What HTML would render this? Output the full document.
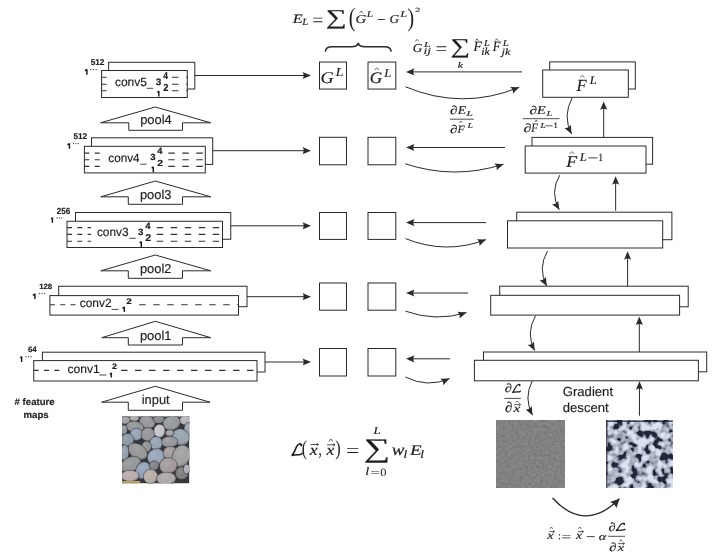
<!DOCTYPE html>
<html><head><meta charset="utf-8"><style>
html,body{margin:0;padding:0;background:#fff;}
body{width:720px;height:559px;overflow:hidden;}
svg{display:block;will-change:transform;}
</style></head><body>
<svg width="720" height="559" viewBox="0 0 720 559" text-rendering="geometricPrecision">
<defs><clipPath id="cp1"><rect x="122.1" y="416.35" width="67.3" height="67.1"/></clipPath><radialGradient id="pg" cx="0.4" cy="0.35" r="0.7"><stop offset="0" stop-color="#fff" stop-opacity="0.12"/><stop offset="0.55" stop-color="#fff" stop-opacity="0"/><stop offset="1" stop-color="#000" stop-opacity="0.42"/></radialGradient><filter id="nzf" filterUnits="userSpaceOnUse" x="496.9" y="420.7" width="67.2" height="67.0" color-interpolation-filters="sRGB">
<feTurbulence type="fractalNoise" baseFrequency="0.35" numOctaves="2" seed="2" result="n"/>
<feColorMatrix in="n" type="matrix" values="0.13 0 0 0 0.441  0.13 0 0 0 0.441  0.13 0 0 0 0.441  0 0 0 0 1"/>
</filter><filter id="txf" filterUnits="userSpaceOnUse" x="606" y="420.6" width="66.9" height="66.9" color-interpolation-filters="sRGB">
<feTurbulence type="fractalNoise" baseFrequency="0.13" numOctaves="2" seed="8" result="n"/>
<feColorMatrix in="n" type="matrix" values="1 0 0 0 0  1 0 0 0 0  1 0 0 0 0  0 0 0 0 1" result="g"/>
<feComponentTransfer in="g">
<feFuncR type="table" tableValues="0.130 0.130 0.130 0.130 0.130 0.130 0.130 0.130 0.130 0.130 0.130 0.130 0.130 0.130 0.130 0.130 0.130 0.130 0.130 0.130 0.130 0.130 0.130 0.130 0.130 0.130 0.130 0.130 0.130 0.130 0.130 0.130 0.130 0.130 0.130 0.130 0.130 0.130 0.130 0.400 0.400 0.400 0.400 0.560 0.575 0.590 0.605 0.620 0.635 0.650 0.665 0.680 0.695 0.710 0.725 0.740 0.755 0.770 0.785 0.800 0.815 0.830 0.845 0.860 0.860 0.860 0.860 0.860 0.860 0.860 0.860 0.860 0.860 0.860 0.860 0.860 0.860 0.860 0.860 0.860 0.860 0.860 0.860 0.860 0.860 0.860 0.860 0.860 0.860 0.860 0.860 0.860 0.860 0.860 0.860 0.860 0.860 0.860 0.860 0.860 0.860"/>
<feFuncG type="table" tableValues="0.150 0.150 0.150 0.150 0.150 0.150 0.150 0.150 0.150 0.150 0.150 0.150 0.150 0.150 0.150 0.150 0.150 0.150 0.150 0.150 0.150 0.150 0.150 0.150 0.150 0.150 0.150 0.150 0.150 0.150 0.150 0.150 0.150 0.150 0.150 0.150 0.150 0.150 0.150 0.430 0.430 0.430 0.430 0.590 0.605 0.620 0.635 0.650 0.665 0.680 0.695 0.710 0.725 0.740 0.755 0.770 0.785 0.800 0.815 0.830 0.845 0.860 0.875 0.890 0.890 0.890 0.890 0.890 0.890 0.890 0.890 0.890 0.890 0.890 0.890 0.890 0.890 0.890 0.890 0.890 0.890 0.890 0.890 0.890 0.890 0.890 0.890 0.890 0.890 0.890 0.890 0.890 0.890 0.890 0.890 0.890 0.890 0.890 0.890 0.890 0.890"/>
<feFuncB type="table" tableValues="0.230 0.230 0.230 0.230 0.230 0.230 0.230 0.230 0.230 0.230 0.230 0.230 0.230 0.230 0.230 0.230 0.230 0.230 0.230 0.230 0.230 0.230 0.230 0.230 0.230 0.230 0.230 0.230 0.230 0.230 0.230 0.230 0.230 0.230 0.230 0.230 0.230 0.230 0.230 0.520 0.520 0.520 0.520 0.650 0.665 0.680 0.695 0.710 0.725 0.740 0.755 0.770 0.785 0.800 0.815 0.830 0.845 0.860 0.875 0.890 0.905 0.920 0.935 0.950 0.950 0.950 0.950 0.950 0.950 0.950 0.950 0.950 0.950 0.950 0.950 0.950 0.950 0.950 0.950 0.950 0.950 0.950 0.950 0.950 0.950 0.950 0.950 0.950 0.950 0.950 0.950 0.950 0.950 0.950 0.950 0.950 0.950 0.950 0.950 0.950 0.950"/>
<feFuncA type="linear" slope="0" intercept="1"/>
</feComponentTransfer>
<feGaussianBlur stdDeviation="0.45"/>
</filter></defs>
<rect width="720" height="559" fill="#fff"/>
<rect x="108.60" y="62.30" width="86.20" height="26.70" fill="#fff" stroke="#2a2a2a" stroke-width="1.0"/>
<rect x="101.60" y="70.50" width="85.70" height="27.00" fill="#fff" stroke="#2a2a2a" stroke-width="1.0"/>
<line x1="194.80" y1="75.50" x2="305.90" y2="75.50" stroke="#2a2a2a" stroke-width="1.0"/>
<path d="M311.00,75.50 L302.50,79.10 Q304.88,75.50 302.50,71.90 Z" fill="#2a2a2a"/>
<line x1="101.60" y1="77.20" x2="112.00" y2="77.20" stroke="#333" stroke-width="1.1" stroke-dasharray="5 5.3"/>
<line x1="172.00" y1="77.20" x2="187.30" y2="77.20" stroke="#333" stroke-width="1.1" stroke-dasharray="6.5 7.5"/>
<line x1="101.60" y1="84.20" x2="112.00" y2="84.20" stroke="#333" stroke-width="1.1" stroke-dasharray="5 5.3"/>
<line x1="172.00" y1="84.20" x2="187.30" y2="84.20" stroke="#333" stroke-width="1.1" stroke-dasharray="6.5 7.5"/>
<line x1="101.60" y1="90.80" x2="112.00" y2="90.80" stroke="#333" stroke-width="1.1" stroke-dasharray="5 5.3"/>
<line x1="172.00" y1="90.80" x2="187.30" y2="90.80" stroke="#333" stroke-width="1.1" stroke-dasharray="6.5 7.5"/>
<rect x="91.50" y="137.80" width="121.20" height="26.60" fill="#fff" stroke="#2a2a2a" stroke-width="1.0"/>
<rect x="84.40" y="146.30" width="120.90" height="26.60" fill="#fff" stroke="#2a2a2a" stroke-width="1.0"/>
<line x1="212.70" y1="150.70" x2="305.90" y2="150.70" stroke="#2a2a2a" stroke-width="1.0"/>
<path d="M311.00,150.70 L302.50,154.30 Q304.88,150.70 302.50,147.10 Z" fill="#2a2a2a"/>
<line x1="84.40" y1="153.10" x2="103.50" y2="153.10" stroke="#333" stroke-width="1.1" stroke-dasharray="5 5.3"/>
<line x1="168.30" y1="153.10" x2="205.30" y2="153.10" stroke="#333" stroke-width="1.1" stroke-dasharray="6.5 7.5"/>
<line x1="84.40" y1="159.70" x2="103.50" y2="159.70" stroke="#333" stroke-width="1.1" stroke-dasharray="5 5.3"/>
<line x1="168.30" y1="159.70" x2="205.30" y2="159.70" stroke="#333" stroke-width="1.1" stroke-dasharray="6.5 7.5"/>
<line x1="84.40" y1="166.40" x2="103.50" y2="166.40" stroke="#333" stroke-width="1.1" stroke-dasharray="5 5.3"/>
<line x1="168.30" y1="166.40" x2="205.30" y2="166.40" stroke="#333" stroke-width="1.1" stroke-dasharray="6.5 7.5"/>
<rect x="75.50" y="212.50" width="155.25" height="26.75" fill="#fff" stroke="#2a2a2a" stroke-width="1.0"/>
<rect x="67.00" y="221.25" width="155.50" height="26.25" fill="#fff" stroke="#2a2a2a" stroke-width="1.0"/>
<line x1="230.75" y1="225.80" x2="305.90" y2="225.80" stroke="#2a2a2a" stroke-width="1.0"/>
<path d="M311.00,225.80 L302.50,229.40 Q304.88,225.80 302.50,222.20 Z" fill="#2a2a2a"/>
<line x1="67.00" y1="227.60" x2="91.00" y2="227.60" stroke="#333" stroke-width="1.1" stroke-dasharray="5 5.3"/>
<line x1="156.70" y1="227.60" x2="222.50" y2="227.60" stroke="#333" stroke-width="1.1" stroke-dasharray="6.5 7.5"/>
<line x1="67.00" y1="234.40" x2="91.00" y2="234.40" stroke="#333" stroke-width="1.1" stroke-dasharray="5 5.3"/>
<line x1="156.70" y1="234.40" x2="222.50" y2="234.40" stroke="#333" stroke-width="1.1" stroke-dasharray="6.5 7.5"/>
<line x1="67.00" y1="241.30" x2="91.00" y2="241.30" stroke="#333" stroke-width="1.1" stroke-dasharray="5 5.3"/>
<line x1="156.70" y1="241.30" x2="222.50" y2="241.30" stroke="#333" stroke-width="1.1" stroke-dasharray="6.5 7.5"/>
<rect x="58.70" y="286.25" width="188.30" height="20.45" fill="#fff" stroke="#2a2a2a" stroke-width="1.0"/>
<rect x="49.90" y="295.60" width="188.60" height="19.50" fill="#fff" stroke="#2a2a2a" stroke-width="1.0"/>
<line x1="247.00" y1="296.70" x2="305.90" y2="296.70" stroke="#2a2a2a" stroke-width="1.0"/>
<path d="M311.00,296.70 L302.50,300.30 Q304.88,296.70 302.50,293.10 Z" fill="#2a2a2a"/>
<line x1="49.90" y1="304.80" x2="76.00" y2="304.80" stroke="#333" stroke-width="1.1" stroke-dasharray="5 5.3"/>
<line x1="139.20" y1="304.80" x2="238.50" y2="304.80" stroke="#333" stroke-width="1.1" stroke-dasharray="6.5 7.5"/>
<rect x="42.40" y="352.20" width="222.60" height="19.80" fill="#fff" stroke="#2a2a2a" stroke-width="1.0"/>
<rect x="33.75" y="360.60" width="223.25" height="20.40" fill="#fff" stroke="#2a2a2a" stroke-width="1.0"/>
<line x1="265.00" y1="362.00" x2="305.90" y2="362.00" stroke="#2a2a2a" stroke-width="1.0"/>
<path d="M311.00,362.00 L302.50,365.60 Q304.88,362.00 302.50,358.40 Z" fill="#2a2a2a"/>
<line x1="33.75" y1="370.40" x2="63.00" y2="370.40" stroke="#333" stroke-width="1.1" stroke-dasharray="5 5.3"/>
<line x1="121.00" y1="370.40" x2="257.00" y2="370.40" stroke="#333" stroke-width="1.1" stroke-dasharray="6.5 7.5"/>
<polygon points="155.30,107.00 210.80,122.80 182.50,122.80 182.50,130.30 128.80,130.30 128.80,122.80 100.50,122.80" fill="#fff" stroke="#2a2a2a" stroke-width="1"/>
<text x="155.95" y="124.20" font-family="Liberation Sans" font-size="12.9" text-anchor="middle" font-style="normal" font-weight="normal" fill="#222" stroke="#222" stroke-width="0.15" >pool4</text>
<polygon points="155.30,181.00 210.80,196.80 182.50,196.80 182.50,204.30 128.30,204.30 128.30,196.80 100.80,196.80" fill="#fff" stroke="#2a2a2a" stroke-width="1"/>
<text x="155.70" y="198.60" font-family="Liberation Sans" font-size="12.9" text-anchor="middle" font-style="normal" font-weight="normal" fill="#222" stroke="#222" stroke-width="0.15" >pool3</text>
<polygon points="155.30,255.00 210.80,270.80 182.50,270.80 182.50,278.30 128.30,278.30 128.30,270.80 100.80,270.80" fill="#fff" stroke="#2a2a2a" stroke-width="1"/>
<text x="155.70" y="272.50" font-family="Liberation Sans" font-size="12.9" text-anchor="middle" font-style="normal" font-weight="normal" fill="#222" stroke="#222" stroke-width="0.15" >pool2</text>
<polygon points="155.30,321.30 210.80,337.70 182.50,337.70 182.50,345.00 128.30,345.00 128.30,337.70 101.70,337.70" fill="#fff" stroke="#2a2a2a" stroke-width="1"/>
<text x="155.70" y="339.70" font-family="Liberation Sans" font-size="12.9" text-anchor="middle" font-style="normal" font-weight="normal" fill="#222" stroke="#222" stroke-width="0.15" >pool1</text>
<polygon points="155.30,386.30 210.00,402.20 182.50,402.20 182.50,410.30 128.30,410.30 128.30,402.20 101.70,402.20" fill="#fff" stroke="#2a2a2a" stroke-width="1"/>
<text x="155.70" y="404.20" font-family="Liberation Sans" font-size="12.9" text-anchor="middle" font-style="normal" font-weight="normal" fill="#222" stroke="#222" stroke-width="0.15" >input</text>
<rect x="319.50" y="62.05" width="27.00" height="27.01" fill="#fff" stroke="#2a2a2a" stroke-width="1.0"/>
<rect x="368.00" y="62.05" width="27.80" height="27.01" fill="#fff" stroke="#2a2a2a" stroke-width="1.0"/>
<rect x="319.50" y="137.30" width="27.00" height="27.50" fill="#fff" stroke="#2a2a2a" stroke-width="1.0"/>
<rect x="368.00" y="137.30" width="27.80" height="27.50" fill="#fff" stroke="#2a2a2a" stroke-width="1.0"/>
<rect x="319.50" y="212.50" width="27.00" height="26.90" fill="#fff" stroke="#2a2a2a" stroke-width="1.0"/>
<rect x="368.00" y="212.50" width="27.80" height="26.90" fill="#fff" stroke="#2a2a2a" stroke-width="1.0"/>
<rect x="319.50" y="283.00" width="27.00" height="27.20" fill="#fff" stroke="#2a2a2a" stroke-width="1.0"/>
<rect x="368.00" y="283.00" width="27.80" height="27.20" fill="#fff" stroke="#2a2a2a" stroke-width="1.0"/>
<rect x="319.50" y="348.50" width="27.00" height="27.50" fill="#fff" stroke="#2a2a2a" stroke-width="1.0"/>
<rect x="368.00" y="348.50" width="27.80" height="27.50" fill="#fff" stroke="#2a2a2a" stroke-width="1.0"/>
<line x1="522.00" y1="71.90" x2="411.10" y2="71.90" stroke="#2a2a2a" stroke-width="1.0"/>
<path d="M406.00,71.90 L414.50,68.30 Q412.12,71.90 414.50,75.50 Z" fill="#2a2a2a"/>
<line x1="505.00" y1="147.50" x2="411.10" y2="147.50" stroke="#2a2a2a" stroke-width="1.0"/>
<path d="M406.00,147.50 L414.50,143.90 Q412.12,147.50 414.50,151.10 Z" fill="#2a2a2a"/>
<line x1="486.00" y1="222.60" x2="411.10" y2="222.60" stroke="#2a2a2a" stroke-width="1.0"/>
<path d="M406.00,222.60 L414.50,219.00 Q412.12,222.60 414.50,226.20 Z" fill="#2a2a2a"/>
<line x1="468.00" y1="293.00" x2="411.10" y2="293.00" stroke="#2a2a2a" stroke-width="1.0"/>
<path d="M406.00,293.00 L414.50,289.40 Q412.12,293.00 414.50,296.60 Z" fill="#2a2a2a"/>
<line x1="450.00" y1="358.80" x2="411.10" y2="358.80" stroke="#2a2a2a" stroke-width="1.0"/>
<path d="M406.00,358.80 L414.50,355.20 Q412.12,358.80 414.50,362.40 Z" fill="#2a2a2a"/>
<path d="M405.50,86.80 Q462.40,110.60 519.30,87.20" fill="none" stroke="#2a2a2a" stroke-width="1.0"/>
<path d="M519.30,87.20 L512.81,93.76 Q513.64,89.53 510.07,87.10 Z" fill="#2a2a2a"/>
<path d="M405.30,163.80 Q454.40,180.00 503.50,164.20" fill="none" stroke="#2a2a2a" stroke-width="1.0"/>
<path d="M503.50,164.20 L496.51,170.23 Q497.67,166.07 494.31,163.38 Z" fill="#2a2a2a"/>
<path d="M405.50,238.60 Q445.75,254.90 486.00,239.60" fill="none" stroke="#2a2a2a" stroke-width="1.0"/>
<path d="M486.00,239.60 L479.33,245.99 Q480.28,241.77 476.78,239.26 Z" fill="#2a2a2a"/>
<path d="M405.50,311.20 Q436.00,322.10 466.50,312.60" fill="none" stroke="#2a2a2a" stroke-width="1.0"/>
<path d="M466.50,312.60 L459.46,318.56 Q460.66,314.42 457.31,311.69 Z" fill="#2a2a2a"/>
<path d="M405.50,377.00 Q427.50,388.25 449.50,378.50" fill="none" stroke="#2a2a2a" stroke-width="1.0"/>
<path d="M449.50,378.50 L443.19,385.24 Q443.90,380.98 440.27,378.65 Z" fill="#2a2a2a"/>
<rect x="549.70" y="61.90" width="85.60" height="27.10" fill="#fff" stroke="#2a2a2a" stroke-width="1.0"/>
<rect x="542.70" y="70.00" width="85.60" height="27.30" fill="#fff" stroke="#2a2a2a" stroke-width="1.0"/>
<rect x="532.00" y="137.40" width="120.60" height="26.80" fill="#fff" stroke="#2a2a2a" stroke-width="1.0"/>
<rect x="525.20" y="146.00" width="120.80" height="27.10" fill="#fff" stroke="#2a2a2a" stroke-width="1.0"/>
<rect x="516.70" y="212.20" width="155.20" height="27.50" fill="#fff" stroke="#2a2a2a" stroke-width="1.0"/>
<rect x="507.50" y="220.80" width="155.20" height="27.20" fill="#fff" stroke="#2a2a2a" stroke-width="1.0"/>
<rect x="499.70" y="286.20" width="188.50" height="20.60" fill="#fff" stroke="#2a2a2a" stroke-width="1.0"/>
<rect x="490.70" y="295.30" width="188.90" height="19.80" fill="#fff" stroke="#2a2a2a" stroke-width="1.0"/>
<rect x="483.50" y="352.00" width="223.20" height="19.80" fill="#fff" stroke="#2a2a2a" stroke-width="1.0"/>
<rect x="474.40" y="360.30" width="224.00" height="20.50" fill="#fff" stroke="#2a2a2a" stroke-width="1.0"/>
<line x1="603.70" y1="137.40" x2="603.70" y2="106.60" stroke="#2a2a2a" stroke-width="1.0"/>
<path d="M603.70,101.50 L607.30,110.00 Q603.70,107.62 600.10,110.00 Z" fill="#2a2a2a"/>
<line x1="615.65" y1="210.80" x2="615.65" y2="181.30" stroke="#2a2a2a" stroke-width="1.0"/>
<path d="M615.65,176.20 L619.25,184.70 Q615.65,182.32 612.05,184.70 Z" fill="#2a2a2a"/>
<line x1="627.60" y1="286.20" x2="627.60" y2="256.40" stroke="#2a2a2a" stroke-width="1.0"/>
<path d="M627.60,251.30 L631.20,259.80 Q627.60,257.42 624.00,259.80 Z" fill="#2a2a2a"/>
<line x1="639.30" y1="352.00" x2="639.30" y2="321.70" stroke="#2a2a2a" stroke-width="1.0"/>
<path d="M639.30,316.60 L642.90,325.10 Q639.30,322.72 635.70,325.10 Z" fill="#2a2a2a"/>
<line x1="639.45" y1="415.70" x2="639.45" y2="386.40" stroke="#2a2a2a" stroke-width="1.0"/>
<path d="M639.45,381.30 L643.05,389.80 Q639.45,387.42 635.85,389.80 Z" fill="#2a2a2a"/>
<path d="M572.30,97.60 Q562.30,115.80 571.50,134.00" fill="none" stroke="#2a2a2a" stroke-width="1.0"/>
<path d="M571.50,134.00 L564.45,128.04 Q568.74,128.54 570.88,124.79 Z" fill="#2a2a2a"/>
<path d="M559.70,175.20 Q549.50,192.50 559.30,209.80" fill="none" stroke="#2a2a2a" stroke-width="1.0"/>
<path d="M559.30,209.80 L551.98,204.18 Q556.28,204.48 558.24,200.63 Z" fill="#2a2a2a"/>
<path d="M547.50,251.00 Q537.50,268.50 546.70,286.00" fill="none" stroke="#2a2a2a" stroke-width="1.0"/>
<path d="M546.70,286.00 L539.56,280.15 Q543.85,280.58 545.93,276.80 Z" fill="#2a2a2a"/>
<path d="M535.50,315.80 Q525.50,333.20 534.70,350.60" fill="none" stroke="#2a2a2a" stroke-width="1.0"/>
<path d="M534.70,350.60 L527.54,344.77 Q531.84,345.19 533.91,341.40 Z" fill="#2a2a2a"/>
<path d="M532.20,381.00 Q523.45,398.10 532.50,415.20" fill="none" stroke="#2a2a2a" stroke-width="1.0"/>
<path d="M532.50,415.20 L525.34,409.37 Q529.64,409.79 531.71,406.00 Z" fill="#2a2a2a"/>
<text transform="translate(576.49,90.70) scale(0.982,1)" font-family="Liberation Serif" font-style="italic" font-weight="normal" font-size="16.95" fill="#1c1c1c" stroke="#1c1c1c" stroke-width="0.16">F</text>
<path d="M580.20,77.40 L582.35,75.40 L584.50,77.40" fill="none" stroke="#222" stroke-width="0.7"/>
<text transform="translate(589.65,84.10) scale(1.076,1)" font-family="Liberation Serif" font-style="italic" font-weight="normal" font-size="11.61" fill="#1c1c1c" stroke="#1c1c1c" stroke-width="0.16">L</text>
<text transform="translate(566.20,167.40) scale(1.088,1)" font-family="Liberation Serif" font-style="italic" font-weight="normal" font-size="16.34" fill="#1c1c1c" stroke="#1c1c1c" stroke-width="0.16">F</text>
<path d="M569.70,153.90 L571.95,151.60 L574.20,153.90" fill="none" stroke="#222" stroke-width="0.7"/>
<text transform="translate(579.75,160.80) scale(1.092,1)" font-family="Liberation Serif" font-style="italic" font-weight="normal" font-size="11.61" fill="#1c1c1c" stroke="#1c1c1c" stroke-width="0.16">L</text>
<line x1="588.30" y1="157.90" x2="597.30" y2="157.90" stroke="#222" stroke-width="0.85"/>
<text transform="translate(598.25,160.80) scale(0.885,1)" font-family="Liberation Serif" font-style="normal" font-weight="normal" font-size="10.91" fill="#1c1c1c" stroke="#1c1c1c" stroke-width="0.16">1</text>
<text transform="translate(320.59,83.26) scale(1.115,1)" font-family="Liberation Serif" font-style="italic" font-weight="normal" font-size="16.40" fill="#1c1c1c" stroke="#1c1c1c" stroke-width="0.16">G</text>
<text transform="translate(335.76,76.30) scale(1.131,1)" font-family="Liberation Serif" font-style="italic" font-weight="normal" font-size="12.07" fill="#1c1c1c" stroke="#1c1c1c" stroke-width="0.16">L</text>
<text transform="translate(369.64,83.46) scale(1.068,1)" font-family="Liberation Serif" font-style="italic" font-weight="normal" font-size="16.25" fill="#1c1c1c" stroke="#1c1c1c" stroke-width="0.16">G</text>
<path d="M374.60,70.10 L376.85,67.70 L379.10,70.10" fill="none" stroke="#222" stroke-width="0.7"/>
<text transform="translate(384.35,76.80) scale(1.038,1)" font-family="Liberation Serif" font-style="italic" font-weight="normal" font-size="12.22" fill="#1c1c1c" stroke="#1c1c1c" stroke-width="0.16">L</text>
<path d="M325.3,51.6 Q325.8,46.8 332,46.8 L351.5,46.8 Q357.4,46.8 358.2,43 Q359,46.8 365,46.8 L384.5,46.8 Q390.7,46.8 391.2,51.6" fill="none" stroke="#2a2a2a" stroke-width="1.5"/>
<text transform="translate(292.79,22.80) scale(1.260,1)" font-family="Liberation Serif" font-style="italic" font-weight="normal" font-size="12.83" fill="#1c1c1c" stroke="#1c1c1c" stroke-width="0.16">E</text>
<text transform="translate(302.31,24.82) scale(1.156,1)" font-family="Liberation Serif" font-style="italic" font-weight="normal" font-size="9.38" fill="#1c1c1c" stroke="#1c1c1c" stroke-width="0.16">L</text>
<text transform="translate(312.19,25.58) scale(1.093,1)" font-family="Liberation Serif" font-style="normal" font-weight="normal" font-size="18.16" fill="#1c1c1c">=</text>
<text transform="translate(325.78,24.16) scale(1.411,1)" font-family="Liberation Serif" font-style="normal" font-weight="normal" font-size="20.86" fill="#1c1c1c" stroke="#1c1c1c" stroke-width="0.16">∑</text>
<text transform="translate(348.81,26.39) scale(0.768,1)" font-family="Liberation Serif" font-style="normal" font-weight="normal" font-size="26.36" fill="#1c1c1c">(</text>
<text transform="translate(355.38,23.19) scale(1.232,1)" font-family="Liberation Serif" font-style="italic" font-weight="normal" font-size="12.07" fill="#1c1c1c" stroke="#1c1c1c" stroke-width="0.16">G</text>
<path d="M359.50,13.20 L361.25,11.00 L363.00,13.20" fill="none" stroke="#222" stroke-width="0.7"/>
<text transform="translate(366.71,16.92) scale(1.258,1)" font-family="Liberation Serif" font-style="italic" font-weight="normal" font-size="8.92" fill="#1c1c1c" stroke="#1c1c1c" stroke-width="0.16">L</text>
<line x1="377.60" y1="19.50" x2="385.00" y2="19.50" stroke="#222" stroke-width="0.85"/>
<text transform="translate(389.46,23.19) scale(1.103,1)" font-family="Liberation Serif" font-style="italic" font-weight="normal" font-size="12.07" fill="#1c1c1c" stroke="#1c1c1c" stroke-width="0.16">G</text>
<text transform="translate(400.22,16.92) scale(1.366,1)" font-family="Liberation Serif" font-style="italic" font-weight="normal" font-size="8.92" fill="#1c1c1c" stroke="#1c1c1c" stroke-width="0.16">L</text>
<text transform="translate(407.56,25.88) scale(0.779,1)" font-family="Liberation Serif" font-style="normal" font-weight="normal" font-size="25.48" fill="#1c1c1c">)</text>
<text transform="translate(415.10,11.72) scale(1.731,1)" font-family="Liberation Serif" font-style="normal" font-weight="normal" font-size="6.25" fill="#1c1c1c" stroke="#1c1c1c" stroke-width="0.1">2</text>
<text transform="translate(412.66,52.49) scale(1.090,1)" font-family="Liberation Serif" font-style="italic" font-weight="normal" font-size="12.22" fill="#1c1c1c" stroke="#1c1c1c" stroke-width="0.16">G</text>
<path d="M415.30,41.40 L417.05,39.40 L418.80,41.40" fill="none" stroke="#222" stroke-width="0.7"/>
<text transform="translate(424.11,47.12) scale(1.483,1)" font-family="Liberation Serif" font-style="italic" font-weight="normal" font-size="7.70" fill="#1c1c1c" stroke="#1c1c1c" stroke-width="0.16">L</text>
<text transform="translate(423.45,54.48) scale(1.419,1)" font-family="Liberation Serif" font-style="italic" font-weight="normal" font-size="9.49" fill="#1c1c1c" stroke="#1c1c1c" stroke-width="0.16">ij</text>
<text transform="translate(435.44,55.45) scale(1.104,1)" font-family="Liberation Serif" font-style="normal" font-weight="normal" font-size="18.96" fill="#1c1c1c">=</text>
<text transform="translate(450.47,52.86) scale(1.314,1)" font-family="Liberation Serif" font-style="normal" font-weight="normal" font-size="20.86" fill="#1c1c1c" stroke="#1c1c1c" stroke-width="0.16">∑</text>
<text transform="translate(457.75,67.82) scale(1.343,1)" font-family="Liberation Serif" font-style="italic" font-weight="normal" font-size="8.56" fill="#1c1c1c" stroke="#1c1c1c" stroke-width="0.16">k</text>
<text transform="translate(473.57,51.40) scale(0.970,1)" font-family="Liberation Serif" font-style="italic" font-weight="normal" font-size="14.20" fill="#1c1c1c" stroke="#1c1c1c" stroke-width="0.16">F</text>
<path d="M475.70,40.70 L477.10,38.80 L478.50,40.70" fill="none" stroke="#222" stroke-width="0.7"/>
<text transform="translate(483.90,46.32) scale(1.133,1)" font-family="Liberation Serif" font-style="italic" font-weight="normal" font-size="9.22" fill="#1c1c1c" stroke="#1c1c1c" stroke-width="0.16">L</text>
<text transform="translate(481.15,54.90) scale(1.073,1)" font-family="Liberation Serif" font-style="italic" font-weight="normal" font-size="10.95" fill="#1c1c1c" stroke="#1c1c1c" stroke-width="0.16">ik</text>
<text transform="translate(492.67,51.40) scale(0.891,1)" font-family="Liberation Serif" font-style="italic" font-weight="normal" font-size="14.20" fill="#1c1c1c" stroke="#1c1c1c" stroke-width="0.16">F</text>
<path d="M495.20,40.70 L496.60,38.80 L498.00,40.70" fill="none" stroke="#222" stroke-width="0.7"/>
<text transform="translate(502.71,46.32) scale(1.195,1)" font-family="Liberation Serif" font-style="italic" font-weight="normal" font-size="9.22" fill="#1c1c1c" stroke="#1c1c1c" stroke-width="0.16">L</text>
<text transform="translate(501.52,54.51) scale(1.257,1)" font-family="Liberation Serif" font-style="italic" font-weight="normal" font-size="9.82" fill="#1c1c1c" stroke="#1c1c1c" stroke-width="0.16">jk</text>
<text transform="translate(449.90,114.15) scale(1.281,1)" font-family="Liberation Serif" font-style="normal" font-weight="normal" font-size="11.71" fill="#1c1c1c" stroke="#1c1c1c" stroke-width="0.16">∂</text>
<text transform="translate(457.66,114.30) scale(1.164,1)" font-family="Liberation Serif" font-style="italic" font-weight="normal" font-size="11.76" fill="#1c1c1c" stroke="#1c1c1c" stroke-width="0.16">E</text>
<text transform="translate(466.51,116.02) scale(1.483,1)" font-family="Liberation Serif" font-style="italic" font-weight="normal" font-size="7.70" fill="#1c1c1c" stroke="#1c1c1c" stroke-width="0.16">L</text>
<line x1="449.90" y1="119.20" x2="473.70" y2="119.20" stroke="#222" stroke-width="0.8"/>
<text transform="translate(449.90,132.85) scale(1.327,1)" font-family="Liberation Serif" font-style="normal" font-weight="normal" font-size="11.30" fill="#1c1c1c" stroke="#1c1c1c" stroke-width="0.16">∂</text>
<text transform="translate(457.56,132.60) scale(1.048,1)" font-family="Liberation Serif" font-style="italic" font-weight="normal" font-size="11.15" fill="#1c1c1c" stroke="#1c1c1c" stroke-width="0.16">F</text>
<path d="M459.20,122.70 L460.65,120.90 L462.10,122.70" fill="none" stroke="#222" stroke-width="0.7"/>
<text transform="translate(467.39,128.22) scale(1.366,1)" font-family="Liberation Serif" font-style="italic" font-weight="normal" font-size="7.09" fill="#1c1c1c" stroke="#1c1c1c" stroke-width="0.16">L</text>
<text transform="translate(529.59,113.85) scale(1.349,1)" font-family="Liberation Serif" font-style="normal" font-weight="normal" font-size="11.30" fill="#1c1c1c" stroke="#1c1c1c" stroke-width="0.16">∂</text>
<text transform="translate(537.07,113.70) scale(1.161,1)" font-family="Liberation Serif" font-style="italic" font-weight="normal" font-size="12.22" fill="#1c1c1c" stroke="#1c1c1c" stroke-width="0.16">E</text>
<text transform="translate(546.60,115.72) scale(1.421,1)" font-family="Liberation Serif" font-style="italic" font-weight="normal" font-size="7.09" fill="#1c1c1c" stroke="#1c1c1c" stroke-width="0.16">L</text>
<line x1="522.80" y1="118.70" x2="559.60" y2="118.70" stroke="#222" stroke-width="0.8"/>
<text transform="translate(523.47,131.84) scale(1.317,1)" font-family="Liberation Serif" font-style="normal" font-weight="normal" font-size="12.12" fill="#1c1c1c" stroke="#1c1c1c" stroke-width="0.16">∂</text>
<text transform="translate(531.16,132.00) scale(0.846,1)" font-family="Liberation Serif" font-style="italic" font-weight="normal" font-size="12.68" fill="#1c1c1c" stroke="#1c1c1c" stroke-width="0.16">F</text>
<path d="M535.00,121.80 L536.15,120.00 L537.30,121.80" fill="none" stroke="#222" stroke-width="0.7"/>
<text transform="translate(540.39,127.92) scale(1.207,1)" font-family="Liberation Serif" font-style="italic" font-weight="normal" font-size="7.54" fill="#1c1c1c" stroke="#1c1c1c" stroke-width="0.16">L</text>
<line x1="545.50" y1="125.80" x2="552.60" y2="125.80" stroke="#222" stroke-width="0.75"/>
<text transform="translate(553.35,128.22) scale(1.131,1)" font-family="Liberation Serif" font-style="normal" font-weight="normal" font-size="8.39" fill="#1c1c1c" stroke="#1c1c1c" stroke-width="0.16">1</text>
<text transform="translate(504.72,392.34) scale(1.199,1)" font-family="Liberation Serif" font-style="normal" font-weight="normal" font-size="12.12" fill="#1c1c1c" stroke="#1c1c1c" stroke-width="0.16">∂</text>
<path d="M519.82,385.67 C520.40,384.74 519.32,384.15 518.23,384.47 C516.77,384.87 515.76,386.61 514.91,388.75 C514.23,390.36 513.39,391.96 512.20,392.45 C513.89,392.10 516.27,391.83 517.96,391.96 C519.15,392.04 519.99,391.56 520.40,391.03" fill="none" stroke="#1c1c1c" stroke-width="1.2" stroke-linecap="round"/>
<circle cx="519.59" cy="385.32" r="0.66" fill="#1c1c1c"/>
<line x1="504.30" y1="398.40" x2="520.80" y2="398.40" stroke="#222" stroke-width="0.8"/>
<text transform="translate(505.11,412.31) scale(1.013,1)" font-family="Liberation Serif" font-style="normal" font-weight="normal" font-size="14.57" fill="#1c1c1c" stroke="#1c1c1c" stroke-width="0.16">∂</text>
<text transform="translate(513.57,412.32) scale(1.335,1)" font-family="Liberation Serif" font-style="italic" font-weight="normal" font-size="11.42" fill="#1c1c1c" stroke="#1c1c1c" stroke-width="0.16">x</text>
<path d="M514.20,404.60 L520.60,404.60 M518.80,403.30 L520.60,404.60 L518.80,405.90" fill="none" stroke="#222" stroke-width="0.7"/>
<path d="M515.50,402.60 L517.10,401.00 L518.70,402.60" fill="none" stroke="#222" stroke-width="0.7"/>
<path d="M301.36,445.71 C302.10,444.37 300.71,443.52 299.32,443.98 C297.46,444.56 296.16,447.05 295.07,450.13 C294.20,452.43 293.12,454.73 291.60,455.42 C293.77,454.92 296.81,454.54 298.98,454.73 C300.49,454.85 301.58,454.16 302.10,453.39" fill="none" stroke="#1c1c1c" stroke-width="1.55" stroke-linecap="round"/>
<circle cx="301.06" cy="445.21" r="0.85" fill="#1c1c1c"/>
<text transform="translate(301.80,454.79) scale(0.754,1)" font-family="Liberation Serif" font-style="normal" font-weight="normal" font-size="21.17" fill="#1c1c1c">(</text>
<text transform="translate(309.72,455.10) scale(1.153,1)" font-family="Liberation Serif" font-style="italic" font-weight="normal" font-size="15.47" fill="#1c1c1c" stroke="#1c1c1c" stroke-width="0.16">x</text>
<path d="M310.50,444.50 L318.50,444.50 M316.70,443.20 L318.50,444.50 L316.70,445.80" fill="none" stroke="#222" stroke-width="0.8"/>
<text transform="translate(318.48,455.32) scale(0.691,1)" font-family="Liberation Serif" font-style="normal" font-weight="normal" font-size="18.84" fill="#1c1c1c" stroke="#1c1c1c" stroke-width="0.1">,</text>
<text transform="translate(326.41,455.10) scale(1.138,1)" font-family="Liberation Serif" font-style="italic" font-weight="normal" font-size="15.47" fill="#1c1c1c" stroke="#1c1c1c" stroke-width="0.16">x</text>
<path d="M327.00,444.80 L335.00,444.80 M333.20,443.50 L335.00,444.80 L333.20,446.10" fill="none" stroke="#222" stroke-width="0.8"/>
<path d="M328.90,441.40 L330.80,439.00 L332.70,441.40" fill="none" stroke="#222" stroke-width="0.8"/>
<text transform="translate(335.27,454.79) scale(0.772,1)" font-family="Liberation Serif" font-style="normal" font-weight="normal" font-size="21.17" fill="#1c1c1c">)</text>
<text transform="translate(345.89,457.23) scale(1.237,1)" font-family="Liberation Serif" font-style="normal" font-weight="normal" font-size="19.36" fill="#1c1c1c">=</text>
<text transform="translate(363.64,456.68) scale(1.376,1)" font-family="Liberation Serif" font-style="normal" font-weight="normal" font-size="26.85" fill="#1c1c1c" stroke="#1c1c1c" stroke-width="0.16">∑</text>
<text transform="translate(373.53,433.82) scale(1.239,1)" font-family="Liberation Serif" font-style="italic" font-weight="normal" font-size="10.29" fill="#1c1c1c" stroke="#1c1c1c" stroke-width="0.16">L</text>
<text transform="translate(365.34,475.40) scale(1.241,1)" font-family="Liberation Serif" font-style="italic" font-weight="normal" font-size="11.53" fill="#1c1c1c" stroke="#1c1c1c" stroke-width="0.16">l</text>
<text transform="translate(370.23,475.99) scale(1.557,1)" font-family="Liberation Serif" font-style="normal" font-weight="normal" font-size="10.96" fill="#1c1c1c">=</text>
<text transform="translate(380.37,475.54) scale(1.125,1)" font-family="Liberation Serif" font-style="normal" font-weight="normal" font-size="11.11" fill="#1c1c1c">0</text>
<text transform="translate(391.74,454.74) scale(1.159,1)" font-family="Liberation Serif" font-style="italic" font-weight="normal" font-size="16.43" fill="#1c1c1c" stroke="#1c1c1c" stroke-width="0.16">w</text>
<text transform="translate(403.39,458.10) scale(1.185,1)" font-family="Liberation Serif" font-style="italic" font-weight="normal" font-size="11.24" fill="#1c1c1c" stroke="#1c1c1c" stroke-width="0.16">l</text>
<text transform="translate(409.92,454.90) scale(1.293,1)" font-family="Liberation Serif" font-style="italic" font-weight="normal" font-size="14.66" fill="#1c1c1c" stroke="#1c1c1c" stroke-width="0.16">E</text>
<text transform="translate(420.29,458.10) scale(1.185,1)" font-family="Liberation Serif" font-style="italic" font-weight="normal" font-size="11.24" fill="#1c1c1c" stroke="#1c1c1c" stroke-width="0.16">l</text>
<text transform="translate(547.16,539.32) scale(1.257,1)" font-family="Liberation Serif" font-style="italic" font-weight="normal" font-size="11.42" fill="#1c1c1c" stroke="#1c1c1c" stroke-width="0.16">x</text>
<path d="M549.20,531.60 L554.70,531.60 M552.90,530.30 L554.70,531.60 L552.90,532.90" fill="none" stroke="#222" stroke-width="0.7"/>
<path d="M550.00,528.80 L551.35,527.00 L552.70,528.80" fill="none" stroke="#222" stroke-width="0.7"/>
<text transform="translate(558.26,539.25) scale(0.904,1)" font-family="Liberation Serif" font-style="normal" font-weight="normal" font-size="10.34" fill="#1c1c1c" stroke="#1c1c1c" stroke-width="0.2">:</text>
<text transform="translate(561.18,540.99) scale(1.358,1)" font-family="Liberation Serif" font-style="normal" font-weight="normal" font-size="13.36" fill="#1c1c1c">=</text>
<text transform="translate(575.94,539.32) scale(1.179,1)" font-family="Liberation Serif" font-style="italic" font-weight="normal" font-size="11.42" fill="#1c1c1c" stroke="#1c1c1c" stroke-width="0.16">x</text>
<path d="M578.00,531.60 L583.50,531.60 M581.70,530.30 L583.50,531.60 L581.70,532.90" fill="none" stroke="#222" stroke-width="0.7"/>
<path d="M578.40,528.80 L579.75,527.00 L581.10,528.80" fill="none" stroke="#222" stroke-width="0.7"/>
<line x1="586.80" y1="536.60" x2="594.60" y2="536.60" stroke="#222" stroke-width="0.85"/>
<text transform="translate(598.76,539.51) scale(1.380,1)" font-family="Liberation Serif" font-style="italic" font-weight="normal" font-size="10.25" fill="#1c1c1c" stroke="#1c1c1c" stroke-width="0.16">α</text>
<text transform="translate(608.62,530.54) scale(1.212,1)" font-family="Liberation Serif" font-style="normal" font-weight="normal" font-size="11.98" fill="#1c1c1c" stroke="#1c1c1c" stroke-width="0.16">∂</text>
<path d="M624.35,524.51 C625.00,523.68 623.78,523.15 622.57,523.44 C620.93,523.80 619.79,525.35 618.84,527.26 C618.08,528.69 617.13,530.12 615.80,530.55 C617.70,530.24 620.36,530.00 622.26,530.12 C623.59,530.19 624.54,529.76 625.00,529.29" fill="none" stroke="#1c1c1c" stroke-width="1.2" stroke-linecap="round"/>
<circle cx="624.09" cy="524.20" r="0.66" fill="#1c1c1c"/>
<line x1="608.20" y1="536.30" x2="625.20" y2="536.30" stroke="#222" stroke-width="0.8"/>
<text transform="translate(609.32,551.24) scale(1.226,1)" font-family="Liberation Serif" font-style="normal" font-weight="normal" font-size="11.85" fill="#1c1c1c" stroke="#1c1c1c" stroke-width="0.16">∂</text>
<text transform="translate(617.65,551.22) scale(1.398,1)" font-family="Liberation Serif" font-style="italic" font-weight="normal" font-size="10.11" fill="#1c1c1c" stroke="#1c1c1c" stroke-width="0.16">x</text>
<path d="M618.00,543.60 L624.50,543.60 M622.70,542.30 L624.50,543.60 L622.70,544.90" fill="none" stroke="#222" stroke-width="0.7"/>
<path d="M619.50,541.60 L620.85,539.70 L622.20,541.60" fill="none" stroke="#222" stroke-width="0.7"/>
<text transform="translate(114.89,86.35) scale(1.003,1)" font-family="Liberation Sans" font-style="normal" font-weight="normal" font-size="12" fill="#1c1c1c" stroke="#1c1c1c" stroke-width="0.15">conv5</text>
<line x1="146.70" y1="88.30" x2="153.30" y2="88.30" stroke="#333" stroke-width="0.9"/>
<text transform="translate(155.87,84.59) scale(1.065,1)" font-family="Liberation Sans" font-style="normal" font-weight="bold" font-size="9.44" fill="#1c1c1c" stroke="#1c1c1c" stroke-width="0.16">3</text>
<text transform="translate(163.17,78.90) scale(0.863,1)" font-family="Liberation Sans" font-style="normal" font-weight="bold" font-size="9.74" fill="#1c1c1c" stroke="#1c1c1c" stroke-width="0.16">4</text>
<text transform="translate(163.28,90.90) scale(0.894,1)" font-family="Liberation Sans" font-style="normal" font-weight="bold" font-size="10.45" fill="#1c1c1c" stroke="#1c1c1c" stroke-width="0.16">2</text>
<path d="M158.82,96.40 L158.82,90.90 M158.82,91.10 L157.50,92.50" fill="none" stroke="#1c1c1c" stroke-width="1.45"/>
<text transform="translate(90.63,65.44) scale(0.971,1)" font-family="Liberation Sans" font-style="normal" font-weight="bold" font-size="8.53" fill="#1c1c1c" stroke="#1c1c1c" stroke-width="0.16">512</text>
<path d="M86.92,74.70 L86.92,69.20 M86.92,69.40 L85.00,70.80" fill="none" stroke="#1c1c1c" stroke-width="1.45"/>
<circle cx="90.60" cy="69.60" r="0.65" fill="#333"/>
<circle cx="93.35" cy="69.60" r="0.65" fill="#333"/>
<circle cx="96.10" cy="69.60" r="0.65" fill="#333"/>
<text transform="translate(108.30,161.85) scale(0.979,1)" font-family="Liberation Sans" font-style="normal" font-weight="normal" font-size="12" fill="#1c1c1c" stroke="#1c1c1c" stroke-width="0.15">conv4</text>
<line x1="140.30" y1="164.20" x2="146.70" y2="164.20" stroke="#333" stroke-width="0.9"/>
<text transform="translate(150.28,159.90) scale(1.070,1)" font-family="Liberation Sans" font-style="normal" font-weight="bold" font-size="9.02" fill="#1c1c1c" stroke="#1c1c1c" stroke-width="0.16">3</text>
<text transform="translate(157.36,154.20) scale(1.036,1)" font-family="Liberation Sans" font-style="normal" font-weight="bold" font-size="9.01" fill="#1c1c1c" stroke="#1c1c1c" stroke-width="0.16">4</text>
<text transform="translate(157.14,166.40) scale(1.189,1)" font-family="Liberation Sans" font-style="normal" font-weight="bold" font-size="8.74" fill="#1c1c1c" stroke="#1c1c1c" stroke-width="0.16">2</text>
<path d="M153.32,172.20 L153.32,166.70 M153.32,166.90 L151.70,168.30" fill="none" stroke="#1c1c1c" stroke-width="1.45"/>
<text transform="translate(73.43,138.94) scale(0.980,1)" font-family="Liberation Sans" font-style="normal" font-weight="bold" font-size="8.39" fill="#1c1c1c" stroke="#1c1c1c" stroke-width="0.16">512</text>
<path d="M69.42,148.80 L69.42,143.30 M69.42,143.50 L67.50,144.90" fill="none" stroke="#1c1c1c" stroke-width="1.45"/>
<circle cx="73.60" cy="143.60" r="0.65" fill="#333"/>
<circle cx="75.95" cy="143.60" r="0.65" fill="#333"/>
<circle cx="78.30" cy="143.60" r="0.65" fill="#333"/>
<text transform="translate(96.89,236.35) scale(0.994,1)" font-family="Liberation Sans" font-style="normal" font-weight="normal" font-size="12" fill="#1c1c1c" stroke="#1c1c1c" stroke-width="0.15">conv3</text>
<line x1="129.40" y1="238.30" x2="135.80" y2="238.30" stroke="#333" stroke-width="0.9"/>
<text transform="translate(138.08,234.90) scale(1.070,1)" font-family="Liberation Sans" font-style="normal" font-weight="bold" font-size="9.02" fill="#1c1c1c" stroke="#1c1c1c" stroke-width="0.16">3</text>
<text transform="translate(145.36,229.20) scale(1.057,1)" font-family="Liberation Sans" font-style="normal" font-weight="bold" font-size="9.01" fill="#1c1c1c" stroke="#1c1c1c" stroke-width="0.16">4</text>
<text transform="translate(145.13,241.10) scale(1.057,1)" font-family="Liberation Sans" font-style="normal" font-weight="bold" font-size="10.03" fill="#1c1c1c" stroke="#1c1c1c" stroke-width="0.16">2</text>
<path d="M141.32,247.20 L141.32,241.40 M141.32,241.60 L139.70,243.00" fill="none" stroke="#1c1c1c" stroke-width="1.45"/>
<text transform="translate(56.70,213.63) scale(0.919,1)" font-family="Liberation Sans" font-style="normal" font-weight="bold" font-size="8.81" fill="#1c1c1c" stroke="#1c1c1c" stroke-width="0.16">256</text>
<path d="M52.42,222.70 L52.42,217.50 M52.42,217.70 L51.10,219.10" fill="none" stroke="#1c1c1c" stroke-width="1.45"/>
<circle cx="57.00" cy="217.90" r="0.65" fill="#333"/>
<circle cx="59.30" cy="217.90" r="0.65" fill="#333"/>
<circle cx="61.60" cy="217.90" r="0.65" fill="#333"/>
<text transform="translate(79.64,307.40) scale(0.998,1)" font-family="Liberation Sans" font-style="normal" font-weight="normal" font-size="12" fill="#1c1c1c" stroke="#1c1c1c" stroke-width="0.15">conv2</text>
<line x1="111.80" y1="309.40" x2="118.50" y2="309.40" stroke="#333" stroke-width="0.9"/>
<path d="M124.33,311.90 L124.33,306.80 M124.33,307.00 L122.55,308.40" fill="none" stroke="#1c1c1c" stroke-width="1.45"/>
<text transform="translate(126.15,303.50) scale(1.243,1)" font-family="Liberation Sans" font-style="normal" font-weight="bold" font-size="8.02" fill="#1c1c1c" stroke="#1c1c1c" stroke-width="0.16">2</text>
<text transform="translate(39.14,289.44) scale(1.023,1)" font-family="Liberation Sans" font-style="normal" font-weight="bold" font-size="7.68" fill="#1c1c1c" stroke="#1c1c1c" stroke-width="0.16">128</text>
<path d="M34.92,299.00 L34.92,293.70 M34.92,293.90 L32.90,295.30" fill="none" stroke="#1c1c1c" stroke-width="1.45"/>
<circle cx="39.50" cy="293.60" r="0.65" fill="#333"/>
<circle cx="42.00" cy="293.60" r="0.65" fill="#333"/>
<circle cx="44.50" cy="293.60" r="0.65" fill="#333"/>
<text transform="translate(67.49,372.95) scale(1.010,1)" font-family="Liberation Sans" font-style="normal" font-weight="normal" font-size="12" fill="#1c1c1c" stroke="#1c1c1c" stroke-width="0.15">conv1</text>
<line x1="99.25" y1="375.00" x2="106.30" y2="375.00" stroke="#333" stroke-width="0.9"/>
<path d="M111.33,377.50 L111.33,372.80 M111.33,373.00 L110.00,374.40" fill="none" stroke="#1c1c1c" stroke-width="1.45"/>
<text transform="translate(111.99,368.60) scale(1.114,1)" font-family="Liberation Sans" font-style="normal" font-weight="bold" font-size="8.02" fill="#1c1c1c" stroke="#1c1c1c" stroke-width="0.16">2</text>
<text transform="translate(27.89,351.74) scale(0.990,1)" font-family="Liberation Sans" font-style="normal" font-weight="bold" font-size="7.97" fill="#1c1c1c" stroke="#1c1c1c" stroke-width="0.16">64</text>
<path d="M21.62,361.90 L21.62,356.40 M21.62,356.60 L20.30,358.00" fill="none" stroke="#1c1c1c" stroke-width="1.45"/>
<circle cx="25.90" cy="356.70" r="0.65" fill="#333"/>
<circle cx="28.50" cy="356.70" r="0.65" fill="#333"/>
<circle cx="31.10" cy="356.70" r="0.65" fill="#333"/>
<g clip-path="url(#cp1)"><rect x="122.1" y="416.35" width="67.3" height="67.1" fill="#34373c"/>
<ellipse cx="125.50" cy="420.16" rx="4.89" ry="4.08" transform="rotate(0 125.50 420.16)" fill="#a2a2a5"/><ellipse cx="125.50" cy="420.16" rx="4.89" ry="4.08" transform="rotate(0 125.50 420.16)" fill="url(#pg)" stroke="#2a2c30" stroke-opacity="0.55" stroke-width="0.9"/>
<ellipse cx="134.34" cy="418.12" rx="4.89" ry="3.26" transform="rotate(0 134.34 418.12)" fill="#aeabab"/><ellipse cx="134.34" cy="418.12" rx="4.89" ry="3.26" transform="rotate(0 134.34 418.12)" fill="url(#pg)" stroke="#2a2c30" stroke-opacity="0.55" stroke-width="0.9"/>
<ellipse cx="147.25" cy="422.20" rx="8.16" ry="6.53" transform="rotate(20 147.25 422.20)" fill="#97979b"/><ellipse cx="147.25" cy="422.20" rx="8.16" ry="6.53" transform="rotate(20 147.25 422.20)" fill="url(#pg)" stroke="#2a2c30" stroke-opacity="0.55" stroke-width="0.9"/>
<ellipse cx="158.81" cy="419.48" rx="5.71" ry="4.08" transform="rotate(0 158.81 419.48)" fill="#87898e"/><ellipse cx="158.81" cy="419.48" rx="5.71" ry="4.08" transform="rotate(0 158.81 419.48)" fill="url(#pg)" stroke="#2a2c30" stroke-opacity="0.55" stroke-width="0.9"/>
<ellipse cx="171.73" cy="422.88" rx="8.97" ry="7.34" transform="rotate(-15 171.73 422.88)" fill="#95989d"/><ellipse cx="171.73" cy="422.88" rx="8.97" ry="7.34" transform="rotate(-15 171.73 422.88)" fill="url(#pg)" stroke="#2a2c30" stroke-opacity="0.55" stroke-width="0.9"/>
<ellipse cx="185.32" cy="420.16" rx="5.71" ry="4.89" transform="rotate(0 185.32 420.16)" fill="#b6b6ba"/><ellipse cx="185.32" cy="420.16" rx="5.71" ry="4.89" transform="rotate(0 185.32 420.16)" fill="url(#pg)" stroke="#2a2c30" stroke-opacity="0.55" stroke-width="0.9"/>
<ellipse cx="135.02" cy="426.95" rx="8.97" ry="5.71" transform="rotate(10 135.02 426.95)" fill="#939598"/><ellipse cx="135.02" cy="426.95" rx="8.97" ry="5.71" transform="rotate(10 135.02 426.95)" fill="url(#pg)" stroke="#2a2c30" stroke-opacity="0.55" stroke-width="0.9"/>
<ellipse cx="124.14" cy="429.67" rx="3.26" ry="4.89" transform="rotate(0 124.14 429.67)" fill="#9398a0"/><ellipse cx="124.14" cy="429.67" rx="3.26" ry="4.89" transform="rotate(0 124.14 429.67)" fill="url(#pg)" stroke="#2a2c30" stroke-opacity="0.55" stroke-width="0.9"/>
<ellipse cx="188.04" cy="429.67" rx="4.08" ry="7.34" transform="rotate(0 188.04 429.67)" fill="#98a2ab"/><ellipse cx="188.04" cy="429.67" rx="4.08" ry="7.34" transform="rotate(0 188.04 429.67)" fill="url(#pg)" stroke="#2a2c30" stroke-opacity="0.55" stroke-width="0.9"/>
<ellipse cx="180.56" cy="437.15" rx="8.97" ry="8.16" transform="rotate(30 180.56 437.15)" fill="#97a3ad"/><ellipse cx="180.56" cy="437.15" rx="8.97" ry="8.16" transform="rotate(30 180.56 437.15)" fill="url(#pg)" stroke="#2a2c30" stroke-opacity="0.55" stroke-width="0.9"/>
<ellipse cx="136.38" cy="434.43" rx="6.53" ry="6.20" transform="rotate(0 136.38 434.43)" fill="#97a3b6"/><ellipse cx="136.38" cy="434.43" rx="6.53" ry="6.20" transform="rotate(0 136.38 434.43)" fill="url(#pg)" stroke="#2a2c30" stroke-opacity="0.55" stroke-width="0.9"/>
<ellipse cx="147.93" cy="434.43" rx="6.85" ry="6.85" transform="rotate(0 147.93 434.43)" fill="#95979a"/><ellipse cx="147.93" cy="434.43" rx="6.85" ry="6.85" transform="rotate(0 147.93 434.43)" fill="url(#pg)" stroke="#2a2c30" stroke-opacity="0.55" stroke-width="0.9"/>
<ellipse cx="159.49" cy="431.03" rx="5.71" ry="6.85" transform="rotate(0 159.49 431.03)" fill="#c4c6cc"/><ellipse cx="159.49" cy="431.03" rx="5.71" ry="6.85" transform="rotate(0 159.49 431.03)" fill="url(#pg)" stroke="#2a2c30" stroke-opacity="0.55" stroke-width="0.9"/>
<ellipse cx="169.69" cy="433.07" rx="4.08" ry="3.26" transform="rotate(0 169.69 433.07)" fill="#a7a2a5"/><ellipse cx="169.69" cy="433.07" rx="4.08" ry="3.26" transform="rotate(0 169.69 433.07)" fill="url(#pg)" stroke="#2a2c30" stroke-opacity="0.55" stroke-width="0.9"/>
<ellipse cx="127.54" cy="439.87" rx="6.53" ry="6.53" transform="rotate(0 127.54 439.87)" fill="#8c98a6"/><ellipse cx="127.54" cy="439.87" rx="6.53" ry="6.53" transform="rotate(0 127.54 439.87)" fill="url(#pg)" stroke="#2a2c30" stroke-opacity="0.55" stroke-width="0.9"/>
<ellipse cx="156.09" cy="443.27" rx="6.53" ry="6.85" transform="rotate(0 156.09 443.27)" fill="#96a3b3"/><ellipse cx="156.09" cy="443.27" rx="6.53" ry="6.85" transform="rotate(0 156.09 443.27)" fill="url(#pg)" stroke="#2a2c30" stroke-opacity="0.55" stroke-width="0.9"/>
<ellipse cx="169.69" cy="441.91" rx="8.16" ry="5.71" transform="rotate(0 169.69 441.91)" fill="#96989d"/><ellipse cx="169.69" cy="441.91" rx="8.16" ry="5.71" transform="rotate(0 169.69 441.91)" fill="url(#pg)" stroke="#2a2c30" stroke-opacity="0.55" stroke-width="0.9"/>
<ellipse cx="146.57" cy="446.67" rx="4.89" ry="5.71" transform="rotate(0 146.57 446.67)" fill="#939395"/><ellipse cx="146.57" cy="446.67" rx="4.89" ry="5.71" transform="rotate(0 146.57 446.67)" fill="url(#pg)" stroke="#2a2c30" stroke-opacity="0.55" stroke-width="0.9"/>
<ellipse cx="137.74" cy="451.43" rx="10.60" ry="7.34" transform="rotate(35 137.74 451.43)" fill="#979798"/><ellipse cx="137.74" cy="451.43" rx="10.60" ry="7.34" transform="rotate(35 137.74 451.43)" fill="url(#pg)" stroke="#2a2c30" stroke-opacity="0.55" stroke-width="0.9"/>
<ellipse cx="124.82" cy="452.79" rx="4.08" ry="8.16" transform="rotate(0 124.82 452.79)" fill="#939eab"/><ellipse cx="124.82" cy="452.79" rx="4.08" ry="8.16" transform="rotate(0 124.82 452.79)" fill="url(#pg)" stroke="#2a2c30" stroke-opacity="0.55" stroke-width="0.9"/>
<ellipse cx="156.09" cy="456.87" rx="8.97" ry="8.16" transform="rotate(-20 156.09 456.87)" fill="#98a6ba"/><ellipse cx="156.09" cy="456.87" rx="8.97" ry="8.16" transform="rotate(-20 156.09 456.87)" fill="url(#pg)" stroke="#2a2c30" stroke-opacity="0.55" stroke-width="0.9"/>
<ellipse cx="170.37" cy="452.79" rx="7.34" ry="6.53" transform="rotate(0 170.37 452.79)" fill="#a29c9e"/><ellipse cx="170.37" cy="452.79" rx="7.34" ry="6.53" transform="rotate(0 170.37 452.79)" fill="url(#pg)" stroke="#2a2c30" stroke-opacity="0.55" stroke-width="0.9"/>
<ellipse cx="181.24" cy="456.19" rx="8.97" ry="11.42" transform="rotate(20 181.24 456.19)" fill="#9fa0a2"/><ellipse cx="181.24" cy="456.19" rx="8.97" ry="11.42" transform="rotate(20 181.24 456.19)" fill="url(#pg)" stroke="#2a2c30" stroke-opacity="0.55" stroke-width="0.9"/>
<ellipse cx="130.94" cy="464.34" rx="10.60" ry="7.34" transform="rotate(-25 130.94 464.34)" fill="#949697"/><ellipse cx="130.94" cy="464.34" rx="10.60" ry="7.34" transform="rotate(-25 130.94 464.34)" fill="url(#pg)" stroke="#2a2c30" stroke-opacity="0.55" stroke-width="0.9"/>
<ellipse cx="143.17" cy="470.46" rx="7.34" ry="8.97" transform="rotate(25 143.17 470.46)" fill="#93a1b9"/><ellipse cx="143.17" cy="470.46" rx="7.34" ry="8.97" transform="rotate(25 143.17 470.46)" fill="url(#pg)" stroke="#2a2c30" stroke-opacity="0.55" stroke-width="0.9"/>
<ellipse cx="154.05" cy="465.70" rx="4.89" ry="4.89" transform="rotate(0 154.05 465.70)" fill="#808286"/><ellipse cx="154.05" cy="465.70" rx="4.89" ry="4.89" transform="rotate(0 154.05 465.70)" fill="url(#pg)" stroke="#2a2c30" stroke-opacity="0.55" stroke-width="0.9"/>
<ellipse cx="168.33" cy="465.70" rx="8.97" ry="8.16" transform="rotate(0 168.33 465.70)" fill="#a39a9c"/><ellipse cx="168.33" cy="465.70" rx="8.97" ry="8.16" transform="rotate(0 168.33 465.70)" fill="url(#pg)" stroke="#2a2c30" stroke-opacity="0.55" stroke-width="0.9"/>
<ellipse cx="181.92" cy="473.18" rx="6.53" ry="6.53" transform="rotate(0 181.92 473.18)" fill="#807c7d"/><ellipse cx="181.92" cy="473.18" rx="6.53" ry="6.53" transform="rotate(0 181.92 473.18)" fill="url(#pg)" stroke="#2a2c30" stroke-opacity="0.55" stroke-width="0.9"/>
<ellipse cx="186.68" cy="469.10" rx="3.26" ry="4.89" transform="rotate(0 186.68 469.10)" fill="#afb0b6"/><ellipse cx="186.68" cy="469.10" rx="3.26" ry="4.89" transform="rotate(0 186.68 469.10)" fill="url(#pg)" stroke="#2a2c30" stroke-opacity="0.55" stroke-width="0.9"/>
<ellipse cx="130.26" cy="475.90" rx="8.97" ry="5.71" transform="rotate(0 130.26 475.90)" fill="#b9abad"/><ellipse cx="130.26" cy="475.90" rx="8.97" ry="5.71" transform="rotate(0 130.26 475.90)" fill="url(#pg)" stroke="#2a2c30" stroke-opacity="0.55" stroke-width="0.9"/>
<ellipse cx="150.65" cy="476.58" rx="7.34" ry="7.34" transform="rotate(0 150.65 476.58)" fill="#b6ada5"/><ellipse cx="150.65" cy="476.58" rx="7.34" ry="7.34" transform="rotate(0 150.65 476.58)" fill="url(#pg)" stroke="#2a2c30" stroke-opacity="0.55" stroke-width="0.9"/>
<ellipse cx="166.29" cy="478.62" rx="9.79" ry="6.53" transform="rotate(0 166.29 478.62)" fill="#ada8a7"/><ellipse cx="166.29" cy="478.62" rx="9.79" ry="6.53" transform="rotate(0 166.29 478.62)" fill="url(#pg)" stroke="#2a2c30" stroke-opacity="0.55" stroke-width="0.9"/>
<rect x="122.1" y="480.95000000000005" width="18.17" height="2.5" fill="#b8a060"/>
</g>
<rect x="496.9" y="420.7" width="67.2" height="67.0" fill="#000" filter="url(#nzf)"/>
<rect x="606" y="420.6" width="66.9" height="66.9" fill="#000" filter="url(#txf)"/>
<rect x="606" y="420.6" width="66.9" height="1.2" fill="#1e2330"/>
<rect x="606" y="420.6" width="1.5" height="66.9" fill="#1e2330" fill-opacity="0.7"/>
<path d="M552.50,498.00 Q585.00,533.50 619.50,498.75" fill="none" stroke="#2a2a2a" stroke-width="1.3"/>
<path d="M619.50,498.75 L616.35,508.31 Q614.93,503.35 609.97,501.97 Z" fill="#2a2a2a"/>
<text x="14.60" y="405.30" font-family="Liberation Sans" font-size="9.6" text-anchor="start" font-style="normal" font-weight="bold" fill="#222" stroke="#222" stroke-width="0.15" ># feature</text>
<text x="23.60" y="417.70" font-family="Liberation Sans" font-size="9.6" text-anchor="start" font-style="normal" font-weight="bold" fill="#222" stroke="#222" stroke-width="0.15" >maps</text>
<text x="562.80" y="396.40" font-family="Liberation Sans" font-size="13.1" text-anchor="start" font-style="normal" font-weight="normal" fill="#222" stroke="#222" stroke-width="0.15" >Gradient</text>
<text x="562.80" y="412.20" font-family="Liberation Sans" font-size="13.1" text-anchor="start" font-style="normal" font-weight="normal" fill="#222" stroke="#222" stroke-width="0.15" >descent</text>
</svg></body></html>
